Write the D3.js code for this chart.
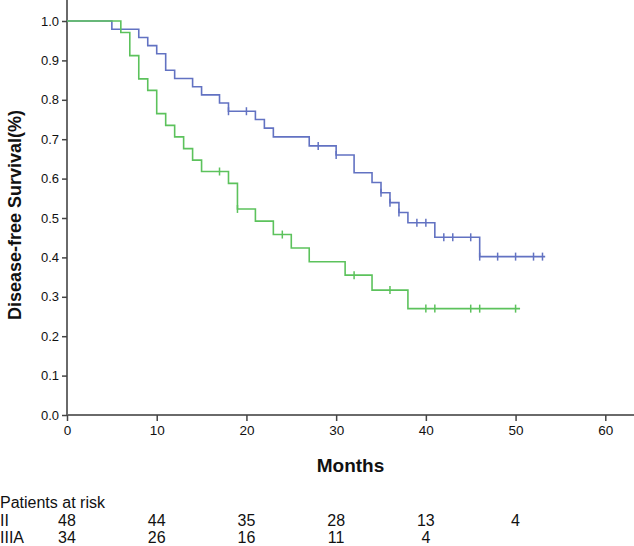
<!DOCTYPE html>
<html>
<head>
<meta charset="utf-8">
<script src="https://cdn.jsdelivr.net/npm/d3@7"></script>
<style>
  html, body { margin: 0; padding: 0; background: #fff; }
  svg { display: block; font-family: "Liberation Sans", Arial, sans-serif; }
</style>
</head>
<body>
<svg id="chart" width="634" height="546"></svg>
<script>
// ---- Data ----
const xTicks = [0, 10, 20, 30, 40, 50, 60];
const yTicks = [0, 0.1, 0.2, 0.3, 0.4, 0.5, 0.6, 0.7, 0.8, 0.9, 1.0];

// Stage II (blue)
const iiTimes    = [0, 5, 8, 9, 10, 11, 12, 14, 15, 17, 18, 21, 22, 23, 27, 30, 32, 34, 35, 36, 37, 38, 41, 46];
const iiSurv     = [1, 0.979, 0.958, 0.9375, 0.917, 0.875, 0.854, 0.833, 0.8125, 0.792, 0.771, 0.750, 0.728, 0.706, 0.683, 0.660, 0.615, 0.590, 0.564, 0.539, 0.514, 0.488, 0.451, 0.402];
const iiEnd      = 53.3;
const iiCensored = [18, 20, 28, 30, 35, 36, 37, 39, 40, 42, 43, 45, 46, 48, 50, 52, 53];

// Stage IIIA (green)
const iiiaTimes    = [0, 6, 7, 8, 9, 10, 11, 12, 13, 14, 15, 18, 19, 21, 23, 25, 27, 31, 34, 38];
const iiiaSurv     = [1, 0.971, 0.912, 0.853, 0.824, 0.765, 0.735, 0.706, 0.676, 0.647, 0.618, 0.588, 0.523, 0.492, 0.458, 0.424, 0.389, 0.355, 0.317, 0.270];
const iiiaEnd      = 50.5;
const iiiaCensored = [17, 19, 24, 32, 36, 40, 41, 45, 46, 50];

// Patients at risk
const riskTimes = [0, 10, 20, 30, 40, 50];
const riskII    = [48, 44, 35, 28, 13, 4];
const riskIIIA  = [34, 26, 16, 11, 4];

// ---- Chart ----
const svg = d3.select("#chart");
const x = d3.scaleLinear().domain([0, 63.2]).range([67, 634]);
const y = d3.scaleLinear().domain([0, 1]).range([415, 21]);
const axisColor = "#6a6a6a";
const font = "'Liberation Sans', Arial, sans-serif";

// Axis lines
svg.append("line").attr("x1", x(0)).attr("x2", x(0)).attr("y1", y(0)).attr("y2", 0)
  .attr("stroke", axisColor).attr("stroke-width", 2);
svg.append("line").attr("x1", x(0)).attr("x2", 634).attr("y1", y(0)).attr("y2", y(0))
  .attr("stroke", axisColor).attr("stroke-width", 2);

// Y axis
const yAxis = d3.axisLeft(y).tickValues(yTicks).tickFormat(d3.format(".1f")).tickSize(5).tickPadding(3);
const gy = svg.append("g").attr("transform", `translate(${x(0)},0)`).call(yAxis);
gy.select(".domain").remove();
gy.selectAll(".tick line").attr("stroke", "#444").attr("stroke-width", 1.5);
gy.selectAll(".tick text").attr("fill", "#111").attr("font-size", 13).attr("font-family", font);

// X axis
const xAxis = d3.axisBottom(x).tickValues(xTicks).tickFormat(d3.format("d")).tickSize(6).tickPadding(4);
const gx = svg.append("g").attr("transform", `translate(0,${y(0)})`).call(xAxis);
gx.select(".domain").remove();
gx.selectAll(".tick line").attr("stroke", "#444").attr("stroke-width", 1.5);
gx.selectAll(".tick text").attr("fill", "#111").attr("font-size", 13.5).attr("font-family", font);

// Axis titles
svg.append("text").attr("x", (x.range()[0] + x.range()[1]) / 2).attr("y", 472).attr("text-anchor", "middle")
  .attr("font-size", 19).attr("font-weight", "bold").attr("fill", "#111").text("Months");
svg.append("text").attr("transform", `translate(21,${y(0.5) - 3}) rotate(-90)`)
  .attr("text-anchor", "middle").attr("font-size", 18).attr("font-weight", "bold")
  .attr("fill", "#111").text("Disease-free Survival(%)");

// Survival curves
function drawCurve(times, surv, end, censored, color) {
  const pts = times.map((t, i) => [t, surv[i]]);
  pts.push([end, surv[surv.length - 1]]);
  const line = d3.line().x(d => x(d[0])).y(d => y(d[1])).curve(d3.curveStepAfter);
  svg.append("path").datum(pts).attr("d", line).attr("fill", "none")
    .attr("stroke", color).attr("stroke-width", 1.6);
  const survAt = t => surv[Math.max(0, d3.bisectRight(times, t) - 1)];
  svg.append("g").selectAll("line").data(censored).join("line")
    .attr("x1", d => x(d)).attr("x2", d => x(d))
    .attr("y1", d => y(survAt(d)) - 4).attr("y2", d => y(survAt(d)) + 4)
    .attr("stroke", color).attr("stroke-width", 1.5);
}
drawCurve(iiTimes, iiSurv, iiEnd, iiCensored, "#6272c2");
drawCurve(iiiaTimes, iiiaSurv, iiiaEnd, iiiaCensored, "#5cc25c");

// Patients at risk table
const riskFont = 16;
const rowY = { head: 508, ii: 526, iiia: 543 };
svg.append("text").attr("x", 0).attr("y", rowY.head).attr("font-size", riskFont).attr("fill", "#111").text("Patients at risk");
svg.append("text").attr("x", 0).attr("y", rowY.ii).attr("font-size", riskFont).attr("fill", "#111").text("II");
svg.append("text").attr("x", 0).attr("y", rowY.iiia).attr("font-size", riskFont).attr("fill", "#111").text("IIIA");
svg.append("g").selectAll("text").data(riskII).join("text")
  .attr("x", (d, i) => x(riskTimes[i])).attr("y", rowY.ii).attr("text-anchor", "middle")
  .attr("font-size", riskFont).attr("fill", "#111").text(d => d);
svg.append("g").selectAll("text").data(riskIIIA).join("text")
  .attr("x", (d, i) => x(riskTimes[i])).attr("y", rowY.iiia).attr("text-anchor", "middle")
  .attr("font-size", riskFont).attr("fill", "#111").text(d => d);
</script>
</body>
</html>
